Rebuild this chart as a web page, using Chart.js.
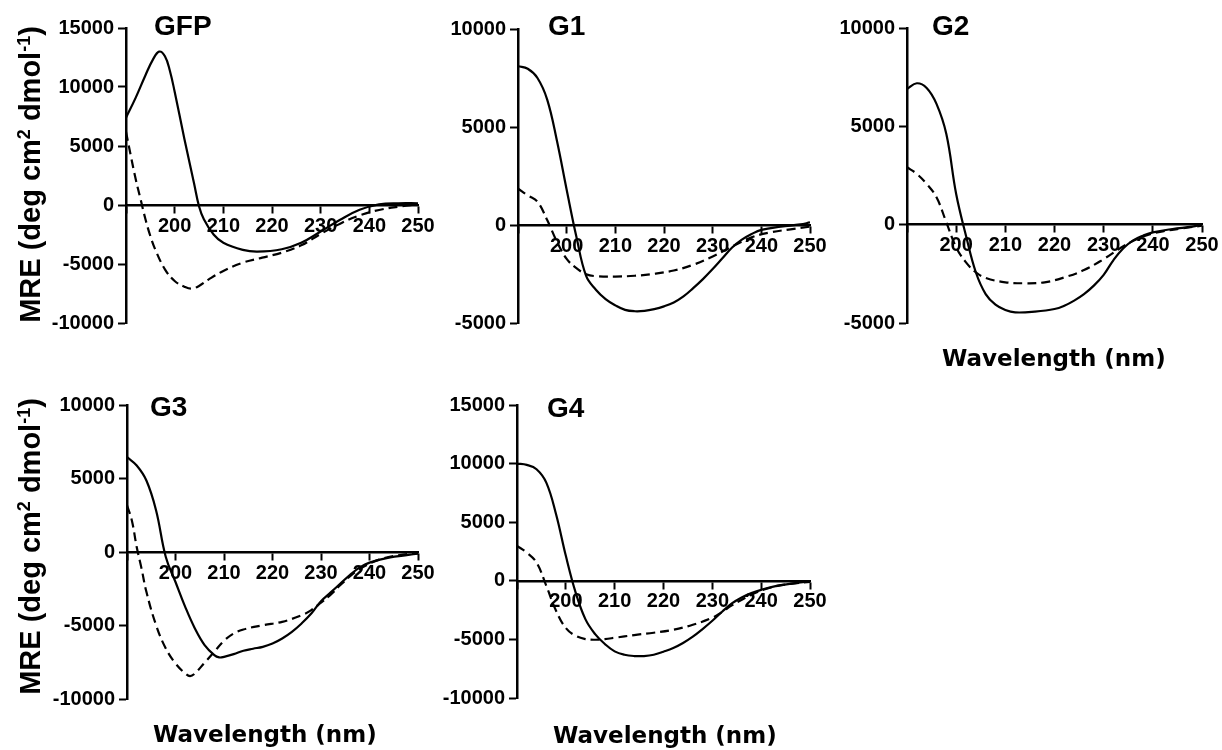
<!DOCTYPE html>
<html>
<head>
<meta charset="utf-8">
<script src="https://cdn.jsdelivr.net/npm/chart.js@4.4.1/dist/chart.umd.min.js"></script>
<style>
  body { margin: 0; background: #fff; }
  #wrap { position: relative; width: 1222px; height: 750px; overflow: hidden; }
  canvas { position: absolute; }
  .lbl { position: absolute; font-family: 'Liberation Sans', Arial, sans-serif; font-weight: bold; color: #000; white-space: nowrap; line-height: 1; }
  .panel { font-size: 28px; }
  .xt { font-family: 'DejaVu Sans', sans-serif; font-size: 23px; }
  .yt { font-size: 29px; width: 360px; text-align: center; transform: rotate(-90deg); }
  sup { font-size: 0.62em; vertical-align: 0.55em; line-height: 0; }
</style>
</head>
<body>
<div id="wrap">
  <canvas id="gfp"></canvas>
  <canvas id="g1"></canvas>
  <canvas id="g2"></canvas>
  <canvas id="g3"></canvas>
  <canvas id="g4"></canvas>

  <div class="lbl panel" style="left:154px; top:12px;">GFP</div>
  <div class="lbl panel" style="left:548px; top:12px;">G1</div>
  <div class="lbl panel" style="left:932px; top:12px;">G2</div>
  <div class="lbl panel" style="left:150px; top:393px;">G3</div>
  <div class="lbl panel" style="left:547px; top:394px;">G4</div>

  <div class="lbl yt" style="left:-150px; top:160px;">MRE (deg cm<sup>2</sup> dmol<sup>-1</sup>)</div>
  <div class="lbl yt" style="left:-150px; top:532px;">MRE (deg cm<sup>2</sup> dmol<sup>-1</sup>)</div>

  <div class="lbl xt" style="left:942px; top:347px;">Wavelength (nm)</div>
  <div class="lbl xt" style="left:153px; top:723px;">Wavelength (nm)</div>
  <div class="lbl xt" style="left:553px; top:724px;">Wavelength (nm)</div>
</div>

<script>
// x axis ticks (wavelength, nm)
const wlTicks = [190, 200, 210, 220, 230, 240, 250];

// GFP
const gfpSolidWl  = [190, 192, 194, 195.5, 196.8, 198, 199, 200, 202, 204, 205, 206, 208, 210, 214, 217, 222, 226, 230, 234, 238, 242, 246, 250];
const gfpSolidMre = [7400, 9100, 11000, 12300, 13000, 12600, 11400, 9600, 5600, 1800, -100, -1200, -2500, -3200, -3800, -3950, -3750, -3200, -2250, -1250, -400, 50, 150, 150];
const gfpDashWl   = [190, 191, 192, 193, 194, 195, 196, 198, 200, 202, 203.5, 205, 207, 210, 214, 218, 222, 226, 230, 234, 238, 242, 246, 250];
const gfpDashMre  = [6200, 4150, 2180, 480, -1210, -2630, -3760, -5450, -6440, -6920, -7090, -6860, -6300, -5590, -4890, -4460, -4040, -3420, -2450, -1580, -880, -420, -140, 50];

// G1
const g1SolidWl  = [190, 192, 194, 196, 198, 200, 202, 204, 206, 208, 210, 212, 214, 216, 218, 220, 222, 224, 226, 228, 230, 232, 234, 236, 238, 240, 244, 248, 250];
const g1SolidMre = [8100, 7970, 7500, 6400, 4300, 1800, -600, -2600, -3300, -3780, -4100, -4330, -4400, -4380, -4290, -4150, -3950, -3640, -3220, -2760, -2250, -1700, -1150, -750, -460, -250, -85, 30, 130];
const g1DashWl   = [190, 192, 194, 196, 198, 200, 202, 204, 206, 210, 214, 218, 222, 226, 230, 234, 238, 242, 246, 250];
const g1DashMre  = [1860, 1510, 1190, 250, -850, -1730, -2200, -2510, -2610, -2630, -2590, -2490, -2320, -2030, -1610, -1100, -630, -370, -220, -85];

// G2
const g2SolidWl  = [190, 192, 194, 196, 198, 200, 202, 204, 206, 208, 210, 212, 216, 220, 222, 224, 226, 228, 230, 232, 234, 236, 238, 240, 244, 248, 250];
const g2SolidMre = [6900, 7190, 6950, 6140, 4610, 1560, -560, -2420, -3530, -4070, -4340, -4460, -4420, -4290, -4120, -3860, -3530, -3100, -2550, -1800, -1200, -800, -560, -390, -220, -100, 0];
const g2DashWl   = [190, 192, 194, 196, 198, 200, 202, 204, 206, 210, 214, 218, 222, 226, 230, 234, 238, 242, 246, 250];
const g2DashMre  = [2920, 2580, 2070, 1390, 120, -1150, -1920, -2420, -2710, -2930, -2980, -2930, -2680, -2310, -1750, -1100, -600, -340, -190, -50];

// G3
const g3SolidWl  = [190, 192, 194, 196, 198, 200, 202, 204, 206, 208, 209, 210, 212, 214, 216, 218, 220, 222, 224, 226, 228, 230, 232, 234, 236, 238, 240, 244, 248, 250];
const g3SolidMre = [6450, 5880, 4860, 2830, -340, -2040, -3730, -5200, -6330, -7010, -7170, -7130, -6950, -6720, -6580, -6450, -6220, -5880, -5430, -4860, -4190, -3350, -2750, -2150, -1550, -1050, -720, -380, -200, -110];
const g3DashWl   = [190, 191, 192, 193, 194, 196, 198, 200, 202, 203, 204, 206, 208, 210, 212, 214, 218, 222, 226, 228, 230, 232, 234, 236, 238, 242, 246, 250];
const g3DashMre  = [3170, 2150, 340, -1130, -2710, -4980, -6560, -7580, -8260, -8440, -8260, -7530, -6790, -6040, -5540, -5270, -4980, -4750, -4300, -3950, -3450, -2900, -2250, -1650, -1150, -520, -220, -70];

// G4
const g4SolidWl  = [190, 192, 194, 196, 198, 200, 202, 204, 206, 208, 210, 212, 214, 216, 218, 220, 222, 224, 226, 228, 230, 232, 234, 236, 238, 240, 244, 248, 250];
const g4SolidMre = [10000, 9890, 9520, 8380, 5680, 2130, -990, -3270, -4550, -5400, -6020, -6310, -6420, -6420, -6310, -6050, -5740, -5310, -4770, -4120, -3410, -2640, -1930, -1420, -1050, -770, -370, -140, -30];
const g4DashWl   = [190, 192, 194, 196, 198, 200, 202, 204, 206, 208, 210, 214, 218, 222, 226, 230, 232, 234, 238, 242, 246, 250];
const g4DashMre  = [2980, 2410, 1560, -430, -2560, -4030, -4690, -4970, -5030, -4970, -4860, -4630, -4430, -4180, -3750, -3150, -2650, -2100, -1190, -570, -260, -85];

const FONT = "'Liberation Sans', Arial, sans-serif";

// where each plot box sits on the page
const panels = [
    { id: 'gfp', axisX: 126, top: 28,  right: 418,  bottom: 323, row: 0,   yMin: -10000, yMax: 15000,
      solid: [gfpSolidWl, gfpSolidMre], dash: [gfpDashWl, gfpDashMre] },
    { id: 'g1',  axisX: 518, top: 29,  right: 810,  bottom: 323, row: 0,   yMin: -5000,  yMax: 10000,
      solid: [g1SolidWl, g1SolidMre], dash: [g1DashWl, g1DashMre] },
    { id: 'g2',  axisX: 907, top: 28,  right: 1202, bottom: 323, row: 0,   yMin: -5000,  yMax: 10000,
      solid: [g2SolidWl, g2SolidMre], dash: [g2DashWl, g2DashMre] },
    { id: 'g3',  axisX: 127, top: 405, right: 418,  bottom: 699, row: 380, yMin: -10000, yMax: 10000,
      solid: [g3SolidWl, g3SolidMre], dash: [g3DashWl, g3DashMre] },
    { id: 'g4',  axisX: 517, top: 405, right: 810,  bottom: 698, row: 380, yMin: -10000, yMax: 15000,
      solid: [g4SolidWl, g4SolidMre], dash: [g4DashWl, g4DashMre] }
];

const AXIS_W = 110;   // space kept for the y tick labels
const PAD_R = 30, PAD_B = 25;

function toPoints(pair) {
    return pair[0].map((x, i) => ({ x: x, y: pair[1][i] }));
}

function drawPanel(p) {
    const canvas = document.getElementById(p.id);
    const w = AXIS_W + (p.right - p.axisX) + PAD_R;
    const h = (p.bottom - p.row) + PAD_B;
    canvas.width = w;
    canvas.height = h;
    canvas.style.left = (p.axisX - AXIS_W) + 'px';
    canvas.style.top = p.row + 'px';
    canvas.style.width = w + 'px';
    canvas.style.height = h + 'px';

    new Chart(canvas.getContext('2d'), {
        type: 'line',
        data: {
            datasets: [{
                data: toPoints(p.solid),
                borderColor: '#000',
                borderWidth: 2.2,
                pointRadius: 0,
                fill: false,
                tension: 0.4
            }, {
                data: toPoints(p.dash),
                borderColor: '#000',
                borderWidth: 2.2,
                borderDash: [9, 5],
                pointRadius: 0,
                fill: false,
                tension: 0.4
            }]
        },
        options: {
            responsive: false,
            animation: false,
            devicePixelRatio: 1,
            layout: { padding: { left: 0, top: p.top - p.row, right: PAD_R, bottom: PAD_B } },
            plugins: { legend: { display: false }, tooltip: { enabled: false }, title: { display: false } },
            scales: {
                x: {
                    type: 'linear',
                    position: { y: 0 },
                    min: 190,
                    max: 250,
                    afterBuildTicks: s => { s.ticks = wlTicks.map(v => ({ value: v })); },
                    ticks: {
                        color: '#000',
                        font: { family: FONT, size: 20, weight: 'bold' },
                        padding: 2,
                        maxRotation: 0,
                        autoSkip: false,
                        callback: v => (v === 190 ? '' : String(v))
                    },
                    grid: { drawOnChartArea: false, drawTicks: true, tickLength: 7, tickWidth: 2, color: '#000' },
                    border: { display: true, color: '#000', width: 2.5 }
                },
                y: {
                    type: 'linear',
                    position: 'left',
                    min: p.yMin,
                    max: p.yMax,
                    afterFit: s => { s.width = AXIS_W; },
                    ticks: {
                        stepSize: 5000,
                        color: '#000',
                        font: { family: FONT, size: 20, weight: 'bold' },
                        padding: 4,
                        callback: v => String(v)
                    },
                    grid: { drawOnChartArea: false, drawTicks: true, tickLength: 8, tickWidth: 2, color: '#000' },
                    border: { display: true, color: '#000', width: 2.5 }
                }
            }
        }
    });
}

panels.forEach(drawPanel);
</script>
</body>
</html>
